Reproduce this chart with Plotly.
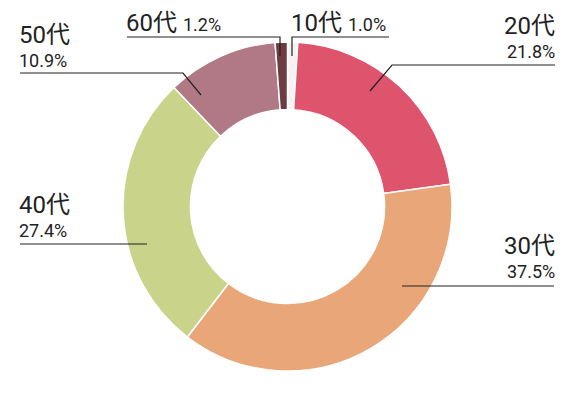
import plotly.graph_objects as go

categories = ["10代", "20代", "30代", "40代", "50代", "60代"]
shares = [1.0, 21.8, 37.5, 27.4, 10.9, 1.2]
colors = ["#f8f1f3", "#df546d", "#e9a679", "#c9d38a", "#b17985", "#6e3b40"]

W, H = 576, 396

def px(x):
    return x / W

def py(y):
    return 1 - y / H

fig = go.Figure()
fig.add_trace(go.Pie(
    labels=categories,
    values=shares,
    sort=False,
    direction="clockwise",
    rotation=0,
    hole=0.59,
    marker=dict(colors=colors, line=dict(color="white", width=1.5)),
    textinfo="none",
    hoverinfo="label+percent",
    showlegend=False,
    domain=dict(x=[px(123), px(452)], y=[py(371), py(42)]),
))

FONT = "Roboto, Noto Sans CJK JP, sans-serif"
BIG = 24
SMALL = 18
TXT = "#222222"

annotations = []

def fmt(v):
    return f"{v:.1f}%"

def ann(text, x, y, anchor, size):
    annotations.append(dict(
        x=px(x), y=py(y), xref="paper", yref="paper", text=text,
        showarrow=False, xanchor=anchor, yanchor="middle", align=anchor,
        borderpad=0, borderwidth=0,
        font=dict(family=FONT, size=size, color=TXT)))

def two_line(label, pct, x, y_big, y_small, anchor):
    ann(label, x, y_big, anchor, BIG)
    ann(pct, x, y_small, anchor, SMALL)

# 50代 (left, top)
two_line(categories[4], fmt(shares[4]), 19, 35.3, 60.3, "left")
# 40代 (left, middle)
two_line(categories[3], fmt(shares[3]), 19, 205.3, 230.5, "left")
# 20代 (right, top)
two_line(categories[1], fmt(shares[1]), 555, 26.3, 51.3, "right")
# 30代 (right, middle)
two_line(categories[2], fmt(shares[2]), 555, 246.3, 271.0, "right")

# single-line labels at top
def one_line(label, pct, x, y, anchor):
    ann(f"{label} <span style='font-size:{SMALL}px'>{pct}</span>", x, y, anchor, BIG)

one_line(categories[5], fmt(shares[5]), 126, 23, "left")
one_line(categories[0], fmt(shares[0]), 291, 23, "left")

shapes = []

def path(points):
    d = "M " + " L ".join(f"{px(x)},{py(y)}" for x, y in points)
    shapes.append(dict(type="path", path=d, xref="paper", yref="paper",
                       line=dict(color="#222222", width=1.2)))

path([(20, 73), (183, 73), (201, 95)])          # 50代
path([(127, 37), (280, 37), (280, 56)])         # 60代
path([(292, 56), (292, 37), (389, 37)])         # 10代
path([(555, 65), (392, 65), (370, 91)])         # 20代
path([(554, 286), (402, 286)])                  # 30代
path([(20, 244), (147, 244)])                   # 40代

fig.update_layout(
    width=W, height=H,
    margin=dict(l=0, r=0, t=0, b=0),
    paper_bgcolor="white",
    plot_bgcolor="white",
    annotations=annotations,
    shapes=shapes,
)

fig.write_html("out.html", config={"displayModeBar": False},
               post_script="document.body.style.margin='0';")
